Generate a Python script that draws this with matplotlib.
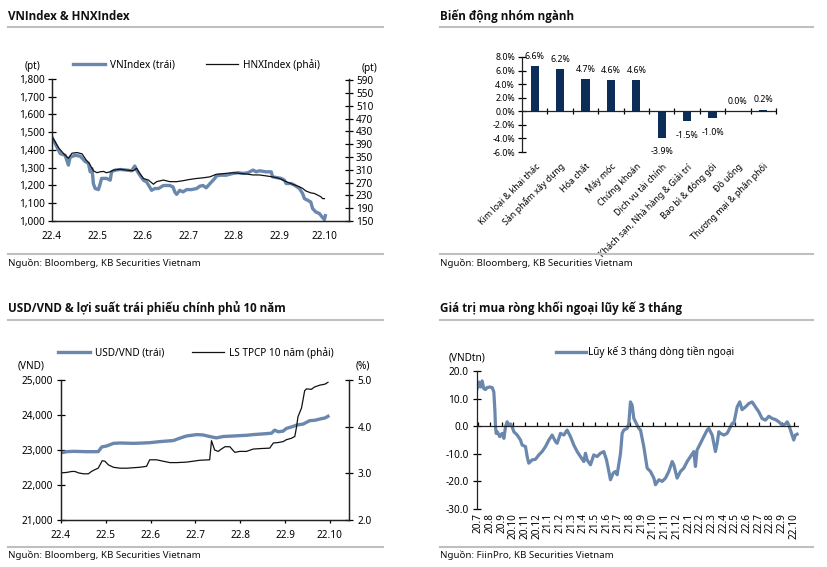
import matplotlib
matplotlib.use("Agg")
import matplotlib.pyplot as plt
from matplotlib.lines import Line2D
from matplotlib import font_manager
import numpy as np

plt.rcParams['font.family'] = ['Noto Sans', 'DejaVu Sans']

W, H = 828, 567
BLUE = '#6a87ad'
NAVY = '#0c2d57'
GREY = '#bfbfbf'
TICK = 7.2

# ---------------- Data ----------------
# Panel 1: VNIndex (left) & HNXIndex (right); x = months since 22.4
vn_t = [0.00, 0.18, 0.29, 0.36, 0.40, 0.51, 0.62, 0.73, 0.80, 0.84, 0.88, 0.91, 0.95, 1.02, 1.06, 1.09,
        1.20, 1.28, 1.31, 1.39, 1.50, 1.64, 1.75, 1.82, 1.86, 1.93, 2.01, 2.08, 2.19, 2.26, 2.34, 2.45,
        2.59, 2.66, 2.70, 2.74, 2.81, 2.88, 2.96, 3.07, 3.18, 3.25, 3.32, 3.39, 3.47, 3.58, 3.61, 3.69,
        3.83, 3.98, 4.09, 4.20, 4.31, 4.42, 4.49, 4.56, 4.71, 4.82, 4.85, 4.93, 5.04, 5.11, 5.15, 5.26,
        5.33, 5.44, 5.51, 5.55, 5.62, 5.69, 5.73, 5.80, 5.88, 5.91, 5.95, 5.99, 6.01]
vn_v = [1472, 1380, 1370, 1315, 1360, 1370, 1365, 1335, 1325, 1277, 1295, 1210, 1183, 1177, 1210, 1240,
        1240, 1230, 1277, 1287, 1290, 1287, 1283, 1310, 1287, 1258, 1230, 1220, 1173, 1183, 1183, 1200,
        1200, 1192, 1164, 1150, 1173, 1164, 1177, 1177, 1183, 1196, 1200, 1187, 1210, 1240, 1253, 1258,
        1258, 1268, 1272, 1268, 1272, 1287, 1277, 1283, 1277, 1277, 1249, 1245, 1240, 1230, 1211, 1211,
        1202, 1183, 1155, 1126, 1117, 1107, 1070, 1051, 1042, 1032, 1019, 1008, 1030]
hnx_t = [0.00, 0.15, 0.26, 0.36, 0.44, 0.55, 0.66, 0.75, 0.82, 0.91, 0.99, 1.06, 1.13, 1.20, 1.28, 1.35,
         1.50, 1.64, 1.79, 1.86, 1.93, 2.01, 2.12, 2.23, 2.30, 2.45, 2.59, 2.74, 2.88, 3.03, 3.18, 3.32,
         3.47, 3.61, 3.83, 3.98, 4.12, 4.27, 4.42, 4.56, 4.71, 4.85, 5.00, 5.15, 5.29, 5.44, 5.51, 5.58,
         5.69, 5.77, 5.84, 5.91, 5.95, 5.99]
hnx_v = [414, 378, 360, 346, 362, 364, 360, 341, 330, 307, 301, 304, 305, 301, 304, 309,
         312, 309, 307, 315, 299, 283, 278, 265, 273, 278, 273, 273, 276, 280, 283, 285,
         288, 296, 299, 301, 299, 297, 294, 294, 291, 288, 283, 273, 265, 257, 252, 244,
         238, 236, 231, 226, 220, 220]
vn_ticks = [1000, 1100, 1200, 1300, 1400, 1500, 1600, 1700, 1800]
hnx_ticks = [150, 190, 230, 270, 310, 350, 390, 430, 470, 510, 550, 590]
month_labels_1 = ['22.4', '22.5', '22.6', '22.7', '22.8', '22.9', '22.10']

# Panel 2: sector changes
sectors = ['Kim loại & khai thác', 'Sản phẩm xây dựng', 'Hóa chất', 'Máy móc', 'Chứng khoán',
           'Dịch vụ tài chính', 'Khách sạn, Nhà hàng & Giải trí', 'Bao bì & đóng gói', 'Đồ uống',
           'Thương mại & phân phối']
sector_chg = [6.6, 6.2, 4.7, 4.6, 4.6, -3.9, -1.5, -1.0, 0.0, 0.2]
sector_ticks = [-6, -4, -2, 0, 2, 4, 6, 8]

# Panel 3: USD/VND (left) & 10Y gov bond yield (right)
usd_t = [0.01, 0.13, 0.28, 0.57, 0.83, 0.91, 1.02, 1.17, 1.32, 1.61, 1.84, 1.99, 2.21, 2.51, 2.65, 2.80,
         3.03, 3.17, 3.32, 3.47, 3.62, 3.84, 3.99, 4.14, 4.29, 4.51, 4.70, 4.77, 4.85, 4.96, 5.03, 5.18,
         5.26, 5.41, 5.55, 5.67, 5.78, 5.89, 5.96]
usd_v = [22923, 22952, 22962, 22952, 22952, 23087, 23115, 23190, 23200, 23190, 23200, 23210, 23240,
         23270, 23337, 23400, 23440, 23430, 23385, 23346, 23385, 23400, 23410, 23420, 23440, 23460,
         23480, 23567, 23520, 23540, 23615, 23673, 23712, 23743, 23838, 23850, 23886, 23914, 23962]
bond_t = [0.01, 0.13, 0.24, 0.31, 0.39, 0.50, 0.61, 0.68, 0.76, 0.83, 0.87, 0.92, 0.98, 1.06, 1.17,
          1.32, 1.47, 1.76, 1.91, 1.98, 2.13, 2.28, 2.43, 2.58, 2.80, 2.95, 3.10, 3.32, 3.36, 3.43,
          3.51, 3.58, 3.66, 3.77, 3.88, 3.99, 4.14, 4.29, 4.44, 4.66, 4.74, 4.85, 4.96, 5.03, 5.14,
          5.22, 5.26, 5.29, 5.37, 5.44, 5.48, 5.59, 5.66, 5.78, 5.89, 5.96]
bond_v = [3.01, 3.02, 3.04, 3.04, 3.01, 2.99, 2.99, 3.04, 3.08, 3.11, 3.18, 3.27, 3.26, 3.18, 3.13,
          3.11, 3.11, 3.13, 3.15, 3.29, 3.29, 3.26, 3.23, 3.23, 3.24, 3.26, 3.28, 3.29, 3.70, 3.50,
          3.47, 3.52, 3.57, 3.57, 3.45, 3.47, 3.47, 3.52, 3.53, 3.54, 3.65, 3.66, 3.68, 3.72, 3.75,
          3.79, 4.00, 4.21, 4.40, 4.77, 4.81, 4.80, 4.85, 4.89, 4.91, 4.95]
usd_ticks = [21000, 22000, 23000, 24000, 25000]
bond_ticks = [2.0, 3.0, 4.0, 5.0]
month_labels_3 = ['22.4', '22.5', '22.6', '22.7', '22.8', '22.9', '22.10']

# Panel 4: 3-month cumulative foreign net buying; x = months since 20.7
flow_t = [-0.09, 0.06, 0.20, 0.34, 0.48, 0.63, 0.77, 1.00, 1.20, 1.34, 1.43, 1.48, 1.54, 1.63, 1.85,
          2.05, 2.20, 2.34, 2.48, 2.62, 2.77, 2.91, 3.05, 3.34, 3.62, 3.76, 4.05, 4.19, 4.33, 4.62,
          4.90, 5.19, 5.47, 5.76, 6.05, 6.33, 6.62, 6.76, 7.04, 7.33, 7.61, 7.90, 8.18, 8.47, 8.75,
          9.04, 9.18, 9.32, 9.61, 9.89, 10.18, 10.46, 10.75, 10.98, 11.18, 11.32, 11.55, 11.75, 11.89,
          12.18, 12.32, 12.46, 12.75, 12.89, 13.03, 13.17, 13.32, 13.46, 13.60, 13.74, 13.89, 14.17,
          14.46, 14.74, 15.03, 15.17, 15.46, 15.74, 16.03, 16.31, 16.60, 16.74, 17.02, 17.31, 17.59,
          17.88, 18.16, 18.45, 18.59, 18.73, 19.02, 19.30, 19.59, 19.73, 20.02, 20.30, 20.45, 20.59,
          20.73, 21.02, 21.30, 21.59, 21.73, 21.87, 22.16, 22.38, 22.58, 22.87, 23.15, 23.44, 23.72,
          24.01, 24.29, 24.58, 24.87, 25.15, 25.44, 25.72, 26.01, 26.30, 26.44, 26.58, 26.72, 26.86,
          27.00, 27.14, 27.29]
flow_v = [13.6, 16.0, 14.2, 16.4, 13.6, 13.3, 14.0, 14.2, 14.0, 12.4, 5.8, 0.0, -2.6, -2.0, -3.8,
          -2.6, -4.4, -0.2, 1.6, 0.4, 0.8, -0.2, -2.0, -3.2, -5.0, -6.8, -7.4, -11.0, -13.4, -12.2,
          -12.0, -10.4, -9.2, -7.4, -5.0, -3.2, -5.6, -6.2, -2.6, -3.2, -1.4, -3.8, -6.8, -9.2, -11.0,
          -12.8, -9.8, -12.2, -14.0, -10.4, -11.0, -9.8, -9.2, -12.2, -16.4, -19.4, -17.0, -16.4, -17.6,
          -9.8, -2.6, -1.4, -0.8, 1.0, 8.8, 7.6, 2.8, 1.6, 0.4, -0.8, -1.4, -7.4,
          -15.2, -16.4, -18.8, -21.2, -19.4, -20.0, -18.8, -16.4, -12.8, -14.0, -18.8, -16.4, -15.2,
          -12.8, -11.0, -9.2, -14.6, -8.6, -6.2, -3.8, -1.4, -0.8, -3.2, -9.2, -6.2, -2.0,
          -2.6, -3.2, -2.6, -0.2, 1.0, 1.0, 7.0, 8.8, 6.0, 7.0, 8.2, 8.8, 7.0,
          5.2, 2.8, 2.2, 3.6, 2.8, 2.4, 1.6, 0.4, 0.8, 1.6, 0.4, -1.4, -3.2,
          -5.0, -3.2, -2.9]
flow_ticks = [-30, -20, -10, 0, 10, 20]
month_labels_4 = ['20.7', '20.8', '20.9', '20.10', '20.11', '20.12', '21.1', '21.2', '21.3', '21.4',
                  '21.5', '21.6', '21.7', '21.8', '21.9', '21.10', '21.11', '21.12', '22.1', '22.2',
                  '22.3', '22.4', '22.5', '22.6', '22.7', '22.8', '22.9', '22.10']

# pick a title family that really has a bold face
installed = {(f.name, f.weight) for f in font_manager.fontManager.ttflist}
TITLE_FAMILY = ['DejaVu Sans']
for fam in ['Noto Sans', 'Open Sans', 'Roboto', 'Lato', 'Liberation Sans']:
    if any(n == fam and (w == 'bold' or w == 700 or w == 'semibold' or w == 600) for n, w in installed):
        TITLE_FAMILY = [fam, 'DejaVu Sans']
        break

# ---------------- Helpers ----------------
fig = plt.figure(figsize=(W / 100, H / 100), dpi=100)


def ax_px(left, top, right, bottom):
    return fig.add_axes([left / W, 1 - bottom / H, (right - left) / W, (bottom - top) / H])


def hline_px(x0, x1, y, color=GREY, lw=1.5):
    fig.add_artist(Line2D([x0 / W, x1 / W], [1 - y / H, 1 - y / H], color=color, lw=lw,
                          transform=fig.transFigure))


def text_px(x, y, s, **kw):
    fig.text(x / W, 1 - y / H, s, **kw)


def header(x0, x1, title, y_title, y_line):
    text_px(x0, y_title, title, fontsize=8.4, fontweight='bold', family=TITLE_FAMILY,
            va='center', ha='left', color='#111111')
    hline_px(x0, x1, y_line)


def footer(x0, x1, src, y_line, y_text):
    hline_px(x0, x1, y_line)
    text_px(x0, y_text, src, fontsize=7.0, va='center', ha='left', color='#111111')


def style_spines(ax, keep):
    for k, s in ax.spines.items():
        s.set_visible(k in keep)
        s.set_linewidth(0.9)
        s.set_color('#222222')


# ---------------- Panel 1 ----------------
header(8, 383, 'VNIndex & HNXIndex', 16, 27)
footer(8, 383, 'Nguồn: Bloomberg, KB Securities Vietnam', 254, 263)
ax1 = ax_px(52, 79, 349, 221)
ax1.plot(vn_t, vn_v, color=BLUE, lw=2.4, solid_joinstyle='round')
ax1.set_ylim(1000, 1800)
ax1.set_xlim(0, 6.53)
ax1.set_yticks(vn_ticks)
ax1.set_yticklabels([f'{v:,}' for v in vn_ticks])
ax1.set_xticks(range(7))
ax1.set_xticklabels(month_labels_1)
ax1.tick_params(axis='y', direction='inout', length=6, width=0.9, labelsize=TICK, pad=2)
ax1.tick_params(axis='x', length=0, labelsize=TICK, pad=7)
style_spines(ax1, ['left', 'right', 'bottom'])
ax1b = ax1.twinx()
ax1b.plot(hnx_t, hnx_v, color='#111111', lw=0.9)
ax1b.set_ylim(150, 594)
ax1b.set_yticks(hnx_ticks)
ax1b.tick_params(axis='y', direction='inout', length=6, width=0.9, labelsize=TICK, pad=2)
style_spines(ax1b, ['left', 'right', 'bottom'])
text_px(33, 67, '(pt)', fontsize=TICK, ha='center', va='center')
text_px(370, 68, '(pt)', fontsize=TICK, ha='center', va='center')
h1 = [Line2D([], [], color=BLUE, lw=2.4), Line2D([], [], color='#111111', lw=0.9)]
fig.legend(h1, ['VNIndex (trái)', 'HNXIndex (phải)'], ncol=2, frameon=False, fontsize=TICK,
           loc='center left', bbox_to_anchor=(73 / W, 1 - 65 / H), handlelength=3.2,
           handletextpad=0.5, columnspacing=3.1, borderaxespad=0, borderpad=0)

# ---------------- Panel 2 ----------------
header(440, 813, 'Biến động nhóm ngành', 16, 27)
footer(440, 813, 'Nguồn: Bloomberg, KB Securities Vietnam', 254, 263)
ax2 = ax_px(522, 57, 776, 152)
xs = np.arange(len(sectors))
ax2.bar(xs, sector_chg, width=0.33, color=NAVY)
ax2.set_xlim(-0.5, len(sectors) - 0.5)
ax2.set_ylim(-6, 8)
ax2.set_yticks(sector_ticks)
ax2.set_yticklabels([f'{v:.1f}%' for v in sector_ticks])
ax2.tick_params(axis='y', direction='inout', length=6, width=0.9, labelsize=6.4, pad=2)
style_spines(ax2, ['left'])
ax2.set_xticks(xs)
ax2.set_xticklabels(sectors, rotation=45, ha='right', rotation_mode='anchor', fontsize=6.4)
ax2.tick_params(axis='x', length=0, pad=7)
ax2.axhline(0, color='#222222', lw=0.9)
sec2 = ax2.secondary_xaxis(0, transform=ax2.transData)
sec2.set_xticks(np.arange(len(sectors)) + 0.5)
sec2.set_xticklabels([])
sec2.tick_params(direction='inout', length=5, width=0.9)
sec2.spines['bottom'].set_visible(False)
for x, v in zip(xs, sector_chg):
    if v >= 0:
        ax2.annotate(f'{v:.1f}%', (x, v), xytext=(0, 4), textcoords='offset points',
                     ha='center', va='bottom', fontsize=6.4)
    else:
        ax2.annotate(f'{v:.1f}%', (x, v), xytext=(0, -7), textcoords='offset points',
                     ha='center', va='top', fontsize=6.4)

# ---------------- Panel 3 ----------------
header(8, 383, 'USD/VND & lợi suất trái phiếu chính phủ 10 năm', 308, 320)
footer(8, 383, 'Nguồn: Bloomberg, KB Securities Vietnam', 547, 555)
ax3 = ax_px(61, 380, 349, 520)
ax3.plot(usd_t, usd_v, color=BLUE, lw=2.4)
ax3.set_ylim(21000, 25000)
ax3.set_xlim(0, 6.43)
ax3.set_yticks(usd_ticks)
ax3.set_yticklabels([f'{v:,}' for v in usd_ticks])
ax3.set_xticks(range(7))
ax3.set_xticklabels(month_labels_3)
ax3.tick_params(axis='y', direction='inout', length=6, width=0.9, labelsize=TICK, pad=3)
ax3.tick_params(axis='x', direction='out', length=2.5, width=0.9, labelsize=TICK, pad=5)
style_spines(ax3, ['left', 'right', 'bottom'])
ax3b = ax3.twinx()
ax3b.plot(bond_t, bond_v, color='#111111', lw=0.9)
ax3b.set_ylim(2.0, 5.0)
ax3b.set_yticks(bond_ticks)
ax3b.set_yticklabels([f'{v:.1f}' for v in bond_ticks])
ax3b.tick_params(axis='y', direction='inout', length=6, width=0.9, labelsize=TICK, pad=3)
style_spines(ax3b, ['left', 'right', 'bottom'])
text_px(31, 366, '(VND)', fontsize=TICK, ha='center', va='center')
text_px(363, 366, '(%)', fontsize=TICK, ha='center', va='center')
h3 = [Line2D([], [], color=BLUE, lw=2.4), Line2D([], [], color='#111111', lw=0.9)]
fig.legend(h3, ['USD/VND (trái)', 'LS TPCP 10 năm (phải)'], ncol=2, frameon=False, fontsize=TICK,
           loc='center left', bbox_to_anchor=(58 / W, 1 - 353 / H), handlelength=3.2,
           handletextpad=0.5, columnspacing=2.8, borderaxespad=0, borderpad=0)

# ---------------- Panel 4 ----------------
header(440, 813, 'Giá trị mua ròng khối ngoại lũy kế 3 tháng', 308, 320)
footer(440, 813, 'Nguồn: FiinPro, KB Securities Vietnam', 547, 555)
ax4 = ax_px(477, 371, 799, 509)
ax4.plot(flow_t, flow_v, color=BLUE, lw=2.3)
ax4.set_ylim(-30, 20)
ax4.set_xlim(-0.1, 27.45)
ax4.set_yticks(flow_ticks)
ax4.set_yticklabels([f'{v:.1f}' for v in flow_ticks])
ax4.tick_params(axis='y', direction='inout', length=6, width=0.9, labelsize=TICK, pad=3)
style_spines(ax4, ['left'])
ax4.set_xticks(range(len(month_labels_4)))
ax4.set_xticklabels(month_labels_4, rotation=90, fontsize=TICK)
ax4.tick_params(axis='x', length=0, pad=3)
ax4.axhline(0, color='#222222', lw=0.9)
sec4 = ax4.secondary_xaxis(0, transform=ax4.transData)
sec4.set_xticks(range(len(month_labels_4)))
sec4.set_xticklabels([])
sec4.tick_params(direction='in', length=3, width=0.9)
sec4.spines['bottom'].set_visible(False)
text_px(467, 358, '(VNDtn)', fontsize=TICK, ha='center', va='center')
h4 = [Line2D([], [], color=BLUE, lw=2.4)]
fig.legend(h4, ['Lũy kế 3 tháng dòng tiền ngoại'], frameon=False, fontsize=TICK,
           loc='center left', bbox_to_anchor=(556 / W, 1 - 352 / H), handlelength=3.0,
           handletextpad=0.2, borderaxespad=0, borderpad=0)

fig.savefig('out.png', dpi=100)
